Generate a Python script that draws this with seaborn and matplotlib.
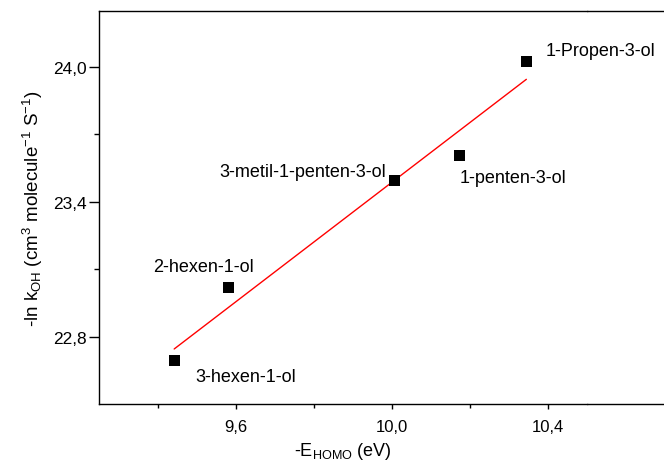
import numpy as np
import pandas as pd
import matplotlib
matplotlib.use('Agg')
import matplotlib.pyplot as plt
import seaborn as sns

# values
names = ['3-hexen-1-ol', '2-hexen-1-ol', '3-metil-1-penten-3-ol', '1-penten-3-ol', '1-Propen-3-ol']
e_homo = [9.442, 9.582, 10.006, 10.174, 10.345]
ln_koh = [22.692, 23.018, 23.496, 23.604, 24.022]

xticks = [9.6, 10.0, 10.4]
xticklabels = ['9,6', '10,0', '10,4']
yticks = [22.8, 23.4, 24.0]
yticklabels = ['22,8', '23,4', '24,0']

df = pd.DataFrame({'name': names, 'x': e_homo, 'y': ln_koh})

sns.set_style('ticks')
plt.rcParams['font.family'] = ['Liberation Sans', 'DejaVu Sans']
plt.rcParams['mathtext.fontset'] = 'custom'
plt.rcParams['mathtext.rm'] = 'Liberation Sans'
plt.rcParams['mathtext.it'] = 'Liberation Sans'
for k in ['text.color', 'axes.labelcolor', 'xtick.color', 'ytick.color', 'axes.edgecolor']:
    plt.rcParams[k] = 'black'

fig = plt.figure(figsize=(6.64, 4.64), dpi=100)
ax = fig.add_axes([99.3 / 664, 59 / 464, 487.5 / 664, 393.3 / 464])

# linear fit (red) and the points
sns.regplot(data=df, x='x', y='y', ax=ax, ci=None, scatter=False, truncate=True,
            line_kws=dict(color='red', lw=1))
sns.scatterplot(data=df, x='x', y='y', ax=ax, marker='s', s=62, color='black',
                edgecolor='none', zorder=3)

# labels next to the points
offsets = {
    '1-Propen-3-ol': (10.395, 24.071, 'left'),
    '1-penten-3-ol': (10.174, 23.507, 'left'),
    '3-metil-1-penten-3-ol': (9.986, 23.533, 'right'),
    '2-hexen-1-ol': (9.388, 23.111, 'left'),
    '3-hexen-1-ol': (9.495, 22.624, 'left'),
}
for n in names:
    tx, ty, ha = offsets[n]
    ax.text(tx, ty, n, ha=ha, va='center', fontsize=13)

ax.set_xlim(9.25, 10.5)
ax.set_ylim(22.5, 24.25)
ax.set_xticks(xticks)
ax.set_xticklabels(xticklabels)
ax.set_xticks([9.4, 9.8, 10.2], minor=True)
ax.set_yticks(yticks)
ax.set_yticklabels(yticklabels)
ax.set_yticks([23.1, 23.7], minor=True)

ax.tick_params(axis='both', which='both', direction='out', color='black', width=1)
ax.tick_params(axis='y', which='major', length=7.2, pad=2, labelsize=12.5)
ax.tick_params(axis='y', which='minor', length=3.6)
ax.tick_params(axis='x', which='major', length=3.8, pad=7, labelsize=12)
ax.tick_params(axis='x', which='minor', length=3)

ax.set_xlabel(r'-E$_{\mathregular{HOMO}}$ (eV)', fontsize=13, labelpad=4)
ax.set_ylabel(r'-ln k$_{\mathregular{OH}}$ (cm$^{\mathregular{3}}$ molecule$^{\mathregular{-1}}$ S$^{\mathregular{-1}}$)',
              fontsize=13.5, labelpad=6)

for s in ['left', 'bottom', 'top']:
    ax.spines[s].set_color('black')
    ax.spines[s].set_linewidth(1)
ax.spines['right'].set_visible(False)

# frame lines run on to the edge of the picture
ax.plot([1, 1.2], [1, 1], transform=ax.transAxes, clip_on=False, color='black', lw=1)
ax.plot([1, 1.2], [0, 0], transform=ax.transAxes, clip_on=False, color='black', lw=1)

fig.savefig('out.png', dpi=100)
